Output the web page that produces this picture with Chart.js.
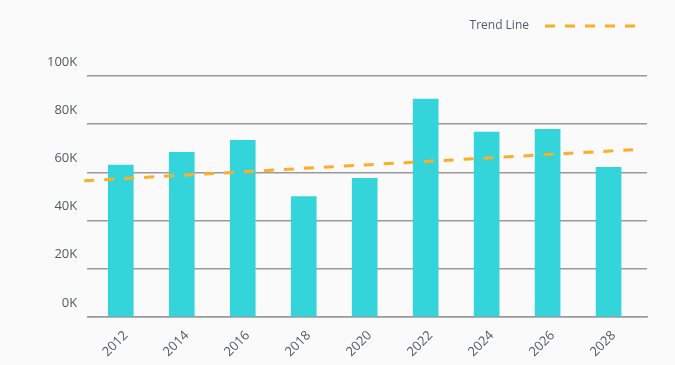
<!DOCTYPE html>
<html>
<head>
<meta charset="utf-8">
<script src="https://cdn.jsdelivr.net/npm/chart.js@4"></script>
<style>
    html, body { margin: 0; padding: 0; background: #fafafa; }
    #wrap { width: 675px; height: 365px; }
</style>
</head>
<body>
<div id="wrap"><canvas id="chart"></canvas></div>
<script>
// Chart data
const years = [2012, 2014, 2016, 2018, 2020, 2022, 2024, 2026, 2028];
const values = [63000, 68300, 73300, 50000, 57500, 90400, 76700, 77900, 62100];

// Trend line end points
const trendYears = [2010.8, 2028.8];
const trendValues = [56500, 69400];

const yTicks = [0, 20000, 40000, 60000, 80000, 100000];

const textColor = '#555a60';
const trendColor = '#ffad28';
const font = { family: 'Open Sans', size: 13 };

// Extra space under the legend
const legendGap = {
    id: 'legendGap',
    beforeInit(chart) {
        const fit = chart.legend.fit;
        chart.legend.fit = function () {
            fit.bind(chart.legend)();
            this.height += 34;
        };
    }
};

new Chart(document.getElementById('chart'), {
    data: {
        datasets: [
            {
                type: 'bar',
                label: 'Values',
                data: years.map((y, i) => ({ x: y, y: values[i] })),
                backgroundColor: '#34d5da',
                barThickness: 25,
                order: 2
            },
            {
                type: 'line',
                label: 'Trend Line',
                data: trendYears.map((y, i) => ({ x: y, y: trendValues[i] })),
                borderColor: trendColor,
                backgroundColor: trendColor,
                borderWidth: 3,
                borderDash: [10, 10],
                pointRadius: 0,
                fill: false,
                clip: false,
                order: 1
            }
        ]
    },
    options: {
        responsive: true,
        maintainAspectRatio: false,
        animation: false,
        layout: {
            padding: { left: 37, right: 28, top: 8, bottom: 2 }
        },
        plugins: {
            legend: {
                position: 'top',
                align: 'start',
                rtl: true,
                labels: {
                    usePointStyle: true,
                    pointStyle: 'line',
                    pointStyleWidth: 100,
                    color: textColor,
                    font: { family: 'Open Sans', size: 12 },
                    padding: 12,
                    // only the trend line, drawn dashed like the series
                    generateLabels: chart => [{
                        text: 'Trend Line',
                        datasetIndex: 1,
                        strokeStyle: trendColor,
                        fillStyle: trendColor,
                        fontColor: textColor,
                        lineWidth: 3,
                        lineDash: [10, 10],
                        lineDashOffset: 10,
                        pointStyle: 'line',
                        hidden: false
                    }]
                }
            },
            tooltip: { enabled: false }
        },
        scales: {
            x: {
                type: 'linear',
                offset: false,
                min: 2010.9,
                max: 2029.26,
                afterBuildTicks: axis => {
                    axis.ticks = years.map(v => ({ value: v }));
                },
                grid: { display: false },
                border: { display: true, color: '#9a9a9a', width: 1.5 },
                ticks: {
                    color: textColor,
                    font: font,
                    minRotation: 45,
                    maxRotation: 45,
                    autoSkip: false,
                    labelOffset: 5,
                    callback: v => String(v)
                }
            },
            y: {
                min: 0,
                max: 100000,
                afterBuildTicks: axis => {
                    axis.ticks = yTicks.map(v => ({ value: v }));
                },
                grid: { color: '#9a9a9a', lineWidth: 1.5, drawTicks: false },
                border: { display: false },
                ticks: {
                    color: textColor,
                    font: font,
                    padding: 10,
                    labelOffset: -14,
                    callback: v => (v / 1000) + 'K'
                }
            }
        }
    },
    plugins: [legendGap]
});
</script>
</body>
</html>
